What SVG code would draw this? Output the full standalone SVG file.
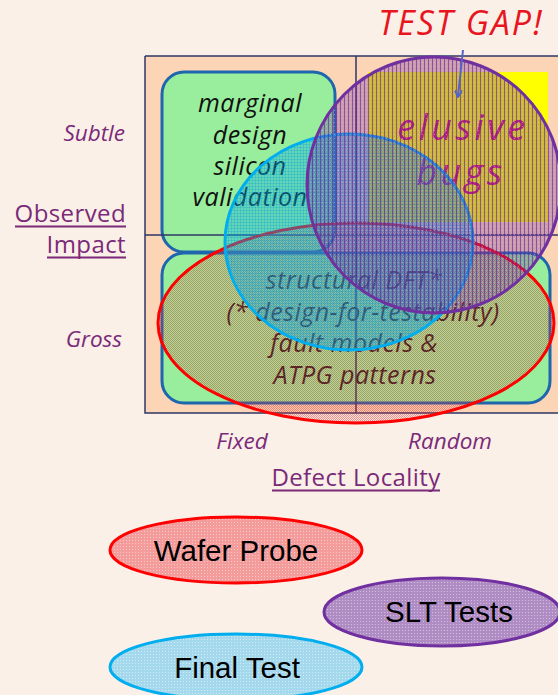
<svg xmlns="http://www.w3.org/2000/svg" width="558" height="695" viewBox="0 0 558 695">
<defs>
<style>
.it{font-family:"Open Sans","Liberation Sans",sans-serif;font-style:italic}
.ax{fill:#7A2A78}
.axl{font-size:22.5px}
.body{font-size:25px;letter-spacing:0.5px;text-anchor:middle}
.grid{stroke:#2E3768;stroke-width:1.5;fill:none}
.gbox{fill:#98EE9C;stroke:#1E66AE;stroke-width:3}
.lbl{font-family:"Liberation Sans",Arial,sans-serif;font-size:29.5px;fill:#000;text-anchor:middle}
.hd{font-family:"Open Sans","Liberation Sans",sans-serif;font-size:24px}
</style>
<pattern id="pRed" width="2" height="2" patternUnits="userSpaceOnUse"><rect width="2" height="2" fill="rgba(235,50,50,0.06)"/><rect width="1" height="1" fill="rgba(225,45,45,0.45)"/><rect x="1" y="1" width="1" height="1" fill="rgba(225,45,45,0.45)"/></pattern>
<pattern id="pCyan" width="3" height="3" patternUnits="userSpaceOnUse"><rect width="3" height="3" fill="rgba(0,170,235,0.35)"/><rect width="3" height="1" fill="rgba(0,150,220,0.25)"/><rect width="1" height="3" fill="rgba(0,150,220,0.25)"/></pattern>
<pattern id="pPur" width="4" height="4" patternUnits="userSpaceOnUse"><rect width="4" height="4" fill="rgba(112,48,160,0.35)"/><rect width="1" height="4" fill="rgba(100,30,160,0.6)"/><rect x="2" y="2" width="1" height="1" fill="rgba(255,240,200,0.35)"/></pattern>
<pattern id="bRed" width="3" height="3" patternUnits="userSpaceOnUse"><rect width="3" height="3" fill="#F49C9C"/><rect width="1" height="1" fill="#F8C8C4"/></pattern>
<pattern id="bPur" width="3" height="3" patternUnits="userSpaceOnUse"><rect width="3" height="3" fill="#B08CC4"/><rect width="1" height="1" fill="#D4C0DC"/></pattern>
<pattern id="bCyan" width="3" height="3" patternUnits="userSpaceOnUse"><rect width="3" height="3" fill="#A4D8EC"/><rect width="1" height="1" fill="#D0ECF4"/></pattern>
<marker id="arr" markerWidth="8" markerHeight="8" refX="6" refY="4" orient="auto" markerUnits="userSpaceOnUse"><path d="M0,0 L7,4 L0,8" fill="none" stroke="#5563C8" stroke-width="2"/></marker>
</defs>
<rect width="558" height="695" fill="#FAF0E8"/>

<g id="quadrant">
<rect x="145" y="56" width="420" height="357" fill="#FBD5B6"/>
<rect x="162" y="72" width="173" height="180" rx="22" class="gbox"/>
<rect x="162" y="253" width="388" height="150" rx="22" class="gbox"/>
<rect x="368" y="72" width="180" height="150" fill="#FFFF00"/>
<path class="grid" d="M145,56 H560 M145,56 V413 H560 M356,56 V413 M145,235 H560"/>
</g>

<g id="marginal">
<text class="it body" fill="#111"><tspan x="250" y="112">marginal</tspan><tspan x="250" y="144">design</tspan><tspan x="250" y="175">silicon</tspan><tspan x="250" y="206">validation</tspan></text>
</g>
<g id="elusive">
<text class="it" font-size="36" fill="#D8146A" text-anchor="middle" letter-spacing="3.5"><tspan x="463" y="140">elusive</tspan><tspan x="461" y="185">bugs</tspan></text>
</g>
<g id="structural">
<text class="it body" fill="#2A2222"><tspan x="354" y="289">structural DFT*</tspan><tspan x="363" y="321">(* design-for-testability)</tspan><tspan x="354" y="352">fault models &amp;</tspan><tspan x="355" y="384">ATPG patterns</tspan></text>
</g>

<g id="coverage">
<ellipse id="red-cov" cx="356" cy="323" rx="198" ry="100" fill="url(#pRed)" stroke="#FF0000" stroke-width="3"/>
<ellipse id="cyan-cov" cx="349" cy="242" rx="124" ry="108" fill="url(#pCyan)" stroke="#00AEEF" stroke-width="3"/>
<ellipse id="pur-cov" cx="434" cy="185" rx="127" ry="128" fill="url(#pPur)" stroke="#7030A0" stroke-width="3"/>
</g>

<g id="testgap">
<text class="it" x="461" y="35" font-size="34" letter-spacing="2" fill="#E8141E" text-anchor="middle">TEST GAP!</text>
</g>
<g id="connectors">
<path d="M463,50 L458,96" stroke="#5563C8" stroke-width="2" fill="none" marker-end="url(#arr)"/>
</g>

<g id="axes">
<text class="it ax axl" x="125" y="141" text-anchor="end">Subtle</text>
<text class="it ax axl" x="122" y="347" text-anchor="end">Gross</text>
<text class="it ax axl" x="242" y="449" text-anchor="middle">Fixed</text>
<text class="it ax axl" x="450" y="449" text-anchor="middle">Random</text>
<text class="hd ax" x="126" y="222" text-anchor="end" letter-spacing="0.4">Observed</text>
<text class="hd ax" x="126" y="253" text-anchor="end" letter-spacing="0.4">Impact</text>
<path d="M15,226.5 H126 M47,257.5 H126" stroke="#7A2A78" stroke-width="1.8"/>
<text class="hd ax" x="356" y="486" text-anchor="middle" letter-spacing="0.4">Defect Locality</text>
<path d="M272,490.5 H440" stroke="#7A2A78" stroke-width="1.8"/>
</g>

<g id="wafer">
<ellipse cx="236" cy="550" rx="126" ry="33" fill="url(#bRed)" stroke="#FF0000" stroke-width="3"/>
<text class="lbl" x="236" y="561">Wafer Probe</text>
</g>
<g id="slt">
<ellipse cx="442" cy="612" rx="118" ry="34" fill="url(#bPur)" stroke="#7030A0" stroke-width="3"/>
<text class="lbl" x="449" y="622">SLT Tests</text>
</g>
<g id="final">
<ellipse cx="236" cy="667" rx="126" ry="33" fill="url(#bCyan)" stroke="#00AEEF" stroke-width="3"/>
<text class="lbl" x="237" y="678">Final Test</text>
</g>
</svg>
